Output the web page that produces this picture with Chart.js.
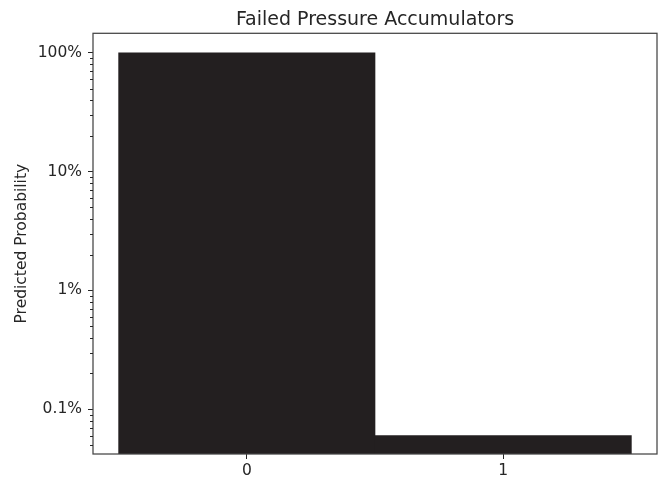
<!DOCTYPE html>
<html>
<head>
<meta charset="utf-8">
<script src="https://cdn.jsdelivr.net/npm/chart.js@4.4.1/dist/chart.umd.min.js"></script>
<style>
  html, body { margin: 0; padding: 0; background: #ffffff; }
  #wrap { width: 666px; height: 481px; }
</style>
</head>
<body>
<div id="wrap"><canvas id="accChart" width="666" height="481"></canvas></div>
<script>
// failed accumulator counts and their predicted probabilities
var failedCounts = [0, 1];
var probabilities = [0.9994, 0.0006];

// log axis ticks
var majorTicks = [0.001, 0.01, 0.1, 1];
var majorLabels = ['0.1%', '1%', '10%', '100%'];
var minorTicks = [0.0005, 0.0006, 0.0007, 0.0008, 0.0009,
    0.002, 0.003, 0.004, 0.005, 0.006, 0.007, 0.008, 0.009,
    0.02, 0.03, 0.04, 0.05, 0.06, 0.07, 0.08, 0.09,
    0.2, 0.3, 0.4, 0.5, 0.6, 0.7, 0.8, 0.9];

var textColor = '#262626';
var frameColor = '#444444';
var fontFamily = '"DejaVu Sans", sans-serif';

// box round the plot area plus the short minor ticks on the y axis
var framePlugin = {
    id: 'frame',
    afterDatasetsDraw: function (chart) {
        var ctx = chart.ctx;
        var area = chart.chartArea;
        var yScale = chart.scales.y;
        ctx.save();
        ctx.strokeStyle = frameColor;
        ctx.lineWidth = 1.25;
        ctx.strokeRect(area.left, area.top, area.right - area.left, area.bottom - area.top);
        ctx.lineWidth = 1;
        ctx.strokeStyle = textColor;
        ctx.beginPath();
        minorTicks.forEach(function (v) {
            var py = Math.round(yScale.getPixelForValue(v)) + 0.5;
            ctx.moveTo(area.left - 3, py);
            ctx.lineTo(area.left, py);
        });
        ctx.stroke();
        ctx.restore();
    }
};

var ctx = document.getElementById('accChart').getContext('2d');
new Chart(ctx, {
    type: 'bar',
    data: {
        datasets: [{
            data: failedCounts.map(function (c, i) { return { x: c, y: probabilities[i] }; }),
            backgroundColor: '#231f20',
            borderWidth: 0,
            barPercentage: 1.0,
            categoryPercentage: 1.0
        }]
    },
    options: {
        responsive: false,
        animation: false,
        layout: { padding: { left: 0, right: 9, top: 0, bottom: 0 } },
        plugins: {
            legend: { display: false },
            tooltip: { enabled: false },
            title: {
                display: true,
                text: 'Failed Pressure Accumulators',
                color: textColor,
                fullSize: false,
                font: { family: fontFamily, size: 19, weight: 'normal', lineHeight: 1.2 },
                padding: { top: 9, bottom: 1.5 }
            }
        },
        scales: {
            x: {
                type: 'linear',
                min: -0.6,
                max: 1.6,
                offset: false,
                afterBuildTicks: function (scale) {
                    scale.ticks = failedCounts.map(function (c) { return { value: c }; });
                },
                afterFit: function (scale) { scale.height = 27; },
                border: { display: false },
                grid: {
                    offset: false,
                    drawOnChartArea: false,
                    tickLength: 5,
                    tickColor: textColor,
                    tickWidth: 1
                },
                ticks: {
                    color: textColor,
                    padding: 3,
                    maxRotation: 0,
                    font: { family: fontFamily, size: 15.5 },
                    callback: function (v) { return String(v); }
                }
            },
            y: {
                type: 'logarithmic',
                min: 0.00042,
                max: 1.46,
                afterBuildTicks: function (scale) {
                    scale.ticks = majorTicks.map(function (v) { return { value: v }; });
                },
                afterFit: function (scale) { scale.width = 93; },
                border: { display: false },
                grid: {
                    drawOnChartArea: false,
                    tickLength: 5,
                    tickColor: textColor,
                    tickWidth: 1
                },
                ticks: {
                    color: textColor,
                    padding: 6,
                    font: { family: fontFamily, size: 15.5 },
                    callback: function (v) {
                        var idx = majorTicks.indexOf(v);
                        return idx >= 0 ? majorLabels[idx] : '';
                    }
                },
                title: {
                    display: true,
                    text: 'Predicted Probability',
                    color: textColor,
                    font: { family: fontFamily, size: 15.5 },
                    padding: { top: 13, bottom: 0 }
                }
            }
        }
    },
    plugins: [framePlugin]
});
</script>
</body>
</html>
